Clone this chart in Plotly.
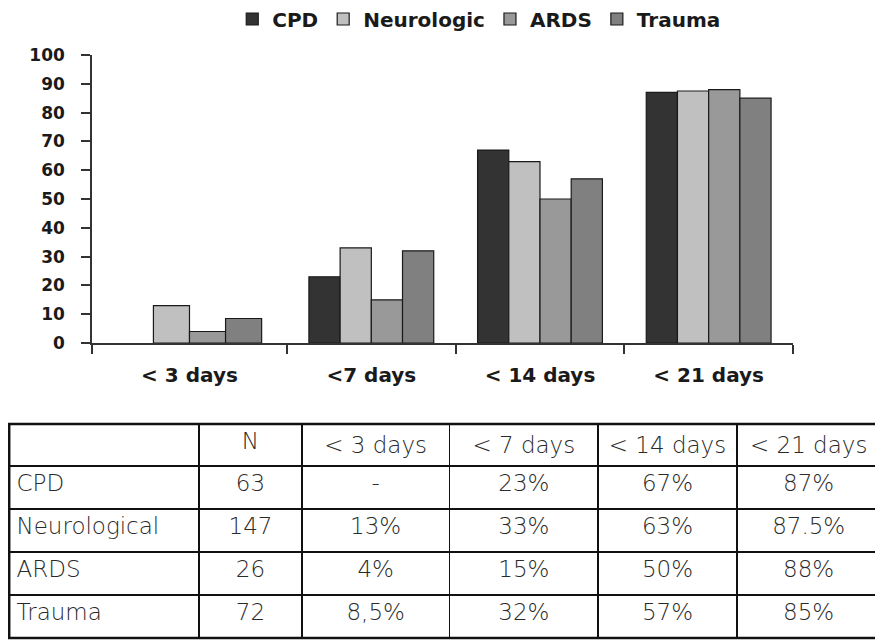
import plotly.graph_objects as go

# ---- data ----
categories = ["< 3 days", "<7 days", "< 14 days", "< 21 days"]
series_names = ["CPD", "Neurologic", "ARDS", "Trauma"]
cpd = [None, 23, 67, 87]
neurologic = [13, 33, 63, 87.5]
ards = [4, 15, 50, 88]
trauma = [8.5, 32, 57, 85]
y_ticks = list(range(0, 101, 10))

table_header = ["", "N", "< 3 days", "< 7 days", "< 14 days", "< 21 days"]
table_groups = ["CPD", "Neurological", "ARDS", "Trauma"]
table_n = ["63", "147", "26", "72"]
table_3d = ["-", "13%", "4%", "8,5%"]
table_7d = ["23%", "33%", "15%", "32%"]
table_14d = ["67%", "63%", "50%", "57%"]
table_21d = ["87%", "87.5%", "88%", "85%"]

colors = ["#333333", "#c0c0c0", "#999999", "#808080"]

# ---- layout constants ----
# the page has an 8px body margin, so the figure is slightly smaller than the window
W, H = 875, 632
# the first category slot of the original is wider than the others
slot_widths = [1.156, 1.0, 1.0, 1.0]
group_fill = 0.74
n_series = len(series_names)

bounds = [0.0]
for s in slot_widths:
    bounds.append(bounds[-1] + s)
centers = [(bounds[i] + bounds[i + 1]) / 2 for i in range(len(slot_widths))]
bar_w = [s * group_fill / n_series for s in slot_widths]

fig = go.Figure()

for k, (name, vals, col) in enumerate(zip(series_names, [cpd, neurologic, ards, trauma], colors)):
    fig.add_trace(go.Bar(
        x=centers, y=vals, name=name,
        width=bar_w,
        offset=[w * (k - n_series / 2) for w in bar_w],
        marker=dict(color=col, line=dict(color="#1a1a1a", width=1.2)),
        xaxis="x", yaxis="y",
    ))

cell_font = dict(family="DejaVu Sans", size=23, color="#2a2a2a", weight=300)
nb = lambda s: s.replace(" ", "\u00a0")
tbl_top, tbl_bot = 416, 630
fig.add_trace(go.Table(
    domain=dict(x=[0.5 / W, 873 / W], y=[(H - tbl_bot) / H, (H - tbl_top) / H]),
    columnwidth=[191, 103, 148, 149, 139, 144],
    header=dict(
        values=[nb(h) for h in table_header],
        align=["left", "center"],
        height=42,
        line=dict(color="#111111", width=1.5),
        fill=dict(color="white"),
        font=cell_font,
    ),
    cells=dict(
        values=[table_groups, table_n, table_3d, table_7d, table_14d, table_21d],
        align=["left", "center"],
        height=43,
        line=dict(color="#111111", width=1.5),
        fill=dict(color="white"),
        font=cell_font,
    ),
))

fig.update_layout(
    width=W, height=H,
    margin=dict(l=0, r=0, t=0, b=0, autoexpand=False),
    paper_bgcolor="white", plot_bgcolor="white",
    barmode="overlay",
    font=dict(family="DejaVu Sans", color="#1a1a1a"),
    showlegend=True,
    legend=dict(
        orientation="h", x=0.538, xanchor="center", y=1 - 11 / H, yanchor="middle",
        font=dict(size=20, weight="bold", color="#1a1a1a"),
        itemwidth=30, traceorder="normal",
    ),
    xaxis=dict(
        domain=[84 / W, 785 / W],
        range=[bounds[0], bounds[-1]],
        tickmode="array", tickvals=centers, ticktext=categories,
        ticks="", showgrid=False, zeroline=False,
        showline=True, linecolor="#333333", linewidth=1.5,
        tickfont=dict(size=20, weight="bold", color="#1a1a1a"),
        ticklabelstandoff=13,
        automargin=False,
        minor=dict(tickmode="array", tickvals=bounds, ticks="outside",
                   ticklen=9, tickwidth=1.5, tickcolor="#333333", showgrid=False),
        fixedrange=True,
    ),
    yaxis=dict(
        domain=[(H - 335) / H, (H - 47) / H],
        range=[0, 100],
        tickmode="array", tickvals=y_ticks,
        ticks="outside", ticklen=9, tickwidth=1.5, tickcolor="#333333",
        showgrid=False, zeroline=False,
        showline=True, linecolor="#333333", linewidth=1.5,
        tickfont=dict(size=17, weight="bold", color="#1a1a1a"),
        ticklabelstandoff=13,
        automargin=False,
        fixedrange=True,
    ),
    shapes=[dict(
        type="rect", xref="paper", yref="paper",
        x0=1.2 / W, x1=872.5 / W, y0=(H - tbl_bot) / H, y1=(H - tbl_top) / H,
        line=dict(color="#111111", width=2.5), fillcolor="rgba(0,0,0,0)",
    )],
)

fig.write_html("out.html", config={"displayModeBar": False})
